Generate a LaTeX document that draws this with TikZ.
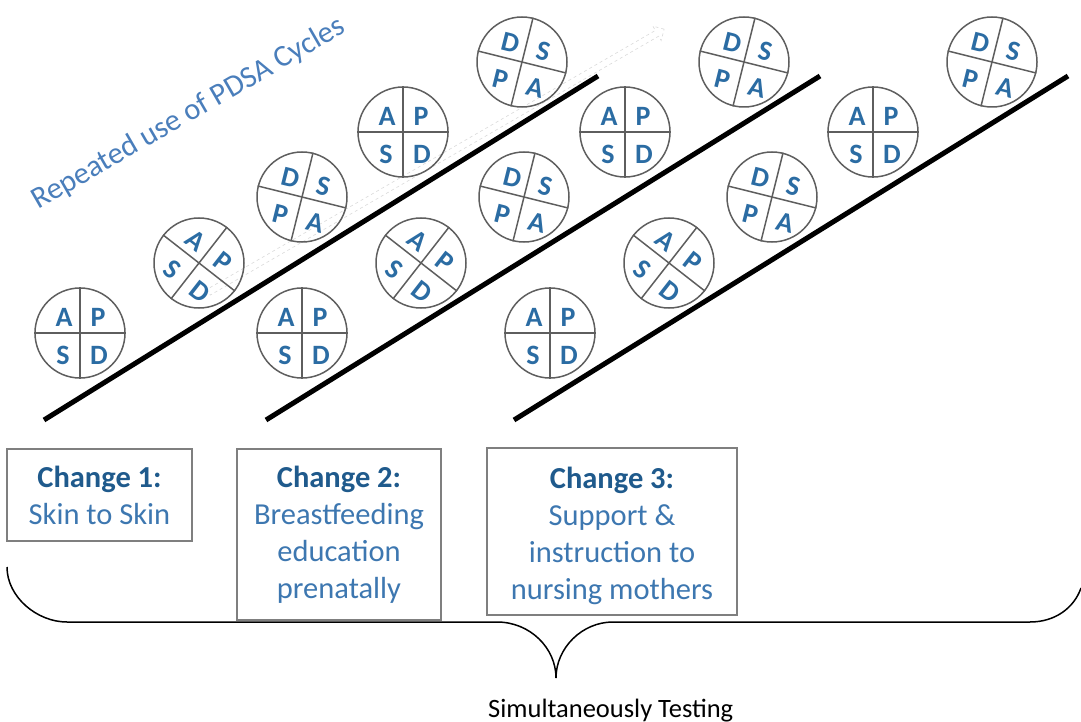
\documentclass[tikz,border=0pt]{standalone}
\usepackage{fontspec}
\setmainfont{Carlito}
\usetikzlibrary{shapes.arrows}
\definecolor{letterblue}{HTML}{2B6CA3}
\definecolor{titleblue}{HTML}{1F5A8C}
\definecolor{bodyblue}{HTML}{3D77B0}
\definecolor{noteblue}{HTML}{4A7EBB}
\definecolor{circgray}{HTML}{5E5E5E}
\definecolor{boxgray}{HTML}{7F7F7F}
\tikzset{
  pdsacirc/.style={circle, draw=circgray, line width=1.5pt, minimum size=90pt, inner sep=0pt},
  pdsaline/.style={draw=circgray, line width=1.5pt},
  pdsaletter/.style={text=letterblue, font=\bfseries\fontsize{28}{28}\selectfont, inner sep=0pt},
  ramp/.style={line width=5pt, black},
  changebox/.style={draw=boxgray, line width=1.8pt, align=center, inner sep=0pt,
    font=\fontsize{30.5}{37}\selectfont, text=bodyblue},
}
\newcommand\pdsa[8]{%
  \node[pdsacirc] (#1) at (#2,#3) {};
  \pgfmathtruncatemacro\pva{90-#4}%
  \pgfmathtruncatemacro\pvb{270-#4}%
  \pgfmathtruncatemacro\pha{360-#4}%
  \pgfmathtruncatemacro\phb{180-#4}%
  \draw[pdsaline] (#1.\pva) -- (#1.\pvb);
  \draw[pdsaline] (#1.\pha) -- (#1.\phb);
  \begin{scope}[shift={(#1.center)}, rotate=-#4, transform shape]
    \node[pdsaletter] (#1-tl) at (-16,-16) {#5};
    \node[pdsaletter] (#1-tr) at (18,-16) {#6};
    \node[pdsaletter] (#1-br) at (19,22) {#7};
    \node[pdsaletter] (#1-bl) at (-17,22) {#8};
  \end{scope}%
}
\begin{document}
\begin{tikzpicture}[x=1pt,y=-1pt]
\useasboundingbox (0,0) rectangle (1081,722);

% faint trend arrow
\node[single arrow, draw=gray!30, dashed, line width=0.6pt, minimum height=526pt,
  minimum width=16pt, inner ysep=3pt, inner xsep=0pt, single arrow head extend=5pt,
  single arrow head indent=0pt, rotate=30] (trend) at (435,161.5) {};

% ramps
\coordinate (r1a) at (44,420);  \coordinate (r1b) at (598,76);
\coordinate (r2a) at (266,420); \coordinate (r2b) at (820,76);
\coordinate (r3a) at (514,420); \coordinate (r3b) at (1068,76);
\draw[ramp] (r1a) -- (r1b);
\draw[ramp] (r2a) -- (r2b);
\draw[ramp] (r3a) -- (r3b);

% chain 1
\pdsa{c11}{80}{333}{0}{A}{P}{D}{S}
\pdsa{c12}{199}{263}{38}{A}{P}{D}{S}
\pdsa{c13}{302}{197}{14}{D}{S}{A}{P}
\pdsa{c14}{403}{132}{0}{A}{P}{D}{S}
\pdsa{c15}{522}{62}{14}{D}{S}{A}{P}
% chain 2
\pdsa{c21}{302}{333}{0}{A}{P}{D}{S}
\pdsa{c22}{421}{263}{38}{A}{P}{D}{S}
\pdsa{c23}{524}{197}{14}{D}{S}{A}{P}
\pdsa{c24}{625}{132}{0}{A}{P}{D}{S}
\pdsa{c25}{744}{62}{14}{D}{S}{A}{P}
% chain 3
\pdsa{c31}{550}{333}{0}{A}{P}{D}{S}
\pdsa{c32}{669}{263}{38}{A}{P}{D}{S}
\pdsa{c33}{772}{197}{14}{D}{S}{A}{P}
\pdsa{c34}{873}{132}{0}{A}{P}{D}{S}
\pdsa{c35}{992}{62}{14}{D}{S}{A}{P}

% title
\node[text=noteblue, font=\fontsize{30.5}{30.5}\selectfont, anchor=base west, rotate=30, inner sep=0pt]
  (repeated) at (38,210) {Repeated use of PDSA Cycles};

% change boxes
\node[changebox, minimum width=185pt, minimum height=92pt] (ch1) at (99.5,495)
  {{\bfseries\color{titleblue}Change 1:}\\Skin to Skin};
\node[changebox, minimum width=204pt, minimum height=171pt] (ch2) at (339,534.5)
  {{\bfseries\color{titleblue}Change 2:}\\Breastfeeding\\education\\prenatally};
\draw[boxgray, line width=1.8pt] (487,448) rectangle (737,615);
\node[changebox, draw=none, minimum width=250pt, minimum height=167pt] (ch3) at (612,536)
  {{\bfseries\color{titleblue}Change 3:}\\Support \&\\instruction to\\nursing mothers};

% brace
\draw[black, line width=1.5pt]
  (7,567) .. controls (7,597) and (37,622) .. (67,622)
  -- (497,622) .. controls (530,622) and (556,648) .. (556,678)
  .. controls (556,648) and (582,622) .. (613,622)
  -- (1030,622) .. controls (1055,622) and (1074,608) .. (1081,588);

\node[font=\fontsize{26.5}{26.5}\selectfont, anchor=base west, inner sep=0pt] (simul) at (488,717)
  {Simultaneously Testing};
\end{tikzpicture}
\end{document}
